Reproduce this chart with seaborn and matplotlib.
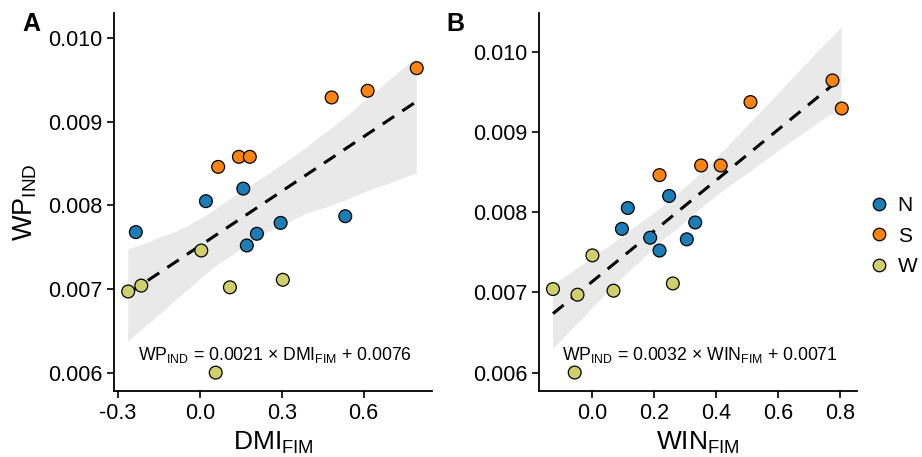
import matplotlib
matplotlib.use("Agg")
import matplotlib.pyplot as plt
import seaborn as sns
import pandas as pd
from matplotlib.lines import Line2D

# ---- data ----
groups = ["N"] * 7 + ["S"] * 6 + ["W"] * 6
wp_ind = [0.00768, 0.00805, 0.00820, 0.00787, 0.00779, 0.00766, 0.00752,
          0.00846, 0.00858, 0.00858, 0.00929, 0.00937, 0.00964,
          0.00697, 0.00704, 0.00746, 0.00702, 0.00711, 0.00600]
dmi_fim = [-0.235, 0.022, 0.159, 0.533, 0.296, 0.209, 0.172,
           0.067, 0.143, 0.183, 0.483, 0.615, 0.795,
           -0.263, -0.215, 0.005, 0.110, 0.304, 0.058]
win_fim = [0.188, 0.116, 0.249, 0.333, 0.097, 0.306, 0.218,
           0.218, 0.352, 0.415, 0.805, 0.511, 0.775,
           -0.046, -0.125, 0.002, 0.070, 0.261, -0.055]
group_order = ["N", "S", "W"]
palette = {"N": "#1b7db4", "S": "#fa8411", "W": "#cfd06c"}
dmi_ticks = [-0.3, 0.0, 0.3, 0.6]
dmi_ticklabels = ["-0.3", "0.0", "0.3", "0.6"]
win_ticks = [0.0, 0.2, 0.4, 0.6, 0.8]
win_ticklabels = ["0.0", "0.2", "0.4", "0.6", "0.8"]
y_ticks = [0.006, 0.007, 0.008, 0.009, 0.010]
y_ticklabels = ["0.006", "0.007", "0.008", "0.009", "0.010"]
eq_a = r"WP$_{\mathrm{IND}}$ = 0.0021 × DMI$_{\mathrm{FIM}}$ + 0.0076"
eq_b = r"WP$_{\mathrm{IND}}$ = 0.0032 × WIN$_{\mathrm{FIM}}$ + 0.0071"

df = pd.DataFrame({"group": groups, "WP": wp_ind, "DMI": dmi_fim, "WIN": win_fim})

sns.set_style("ticks")
plt.rcParams["font.family"] = ["Liberation Sans", "DejaVu Sans"]
plt.rcParams["mathtext.fontset"] = "custom"
plt.rcParams["mathtext.rm"] = "Liberation Sans"
plt.rcParams["mathtext.it"] = "Liberation Sans:italic"
plt.rcParams["mathtext.bf"] = "Liberation Sans:bold"
for key in ["text.color", "axes.labelcolor", "xtick.color", "ytick.color", "axes.edgecolor"]:
    plt.rcParams[key] = "black"

fig = plt.figure(figsize=(9.22, 4.57), dpi=100)
axA = fig.add_axes([114 / 922, 66 / 457, 318 / 922, 378 / 457])
axB = fig.add_axes([539 / 922, 66 / 457, 317.7 / 922, 378 / 457])


def panel(ax, xcol, xlim, ylim, xticks, xticklabels, xlabel, eq):
    sns.regplot(data=df, x=xcol, y="WP", ax=ax, scatter=False, ci=95,
                color="black", truncate=True,
                line_kws={"lw": 2.2, "dashes": (4.5, 3.2), "zorder": 3})
    for coll in ax.collections:
        coll.set_facecolor("#e9e9e9")
        coll.set_alpha(1.0)
        coll.set_edgecolor("none")
        coll.set_zorder(1)
    sns.scatterplot(data=df, x=xcol, y="WP", hue="group", hue_order=group_order,
                    palette=palette, s=85, edgecolor="black", linewidth=0.9,
                    ax=ax, legend=False, zorder=4)
    ax.set_xlim(*xlim)
    ax.set_ylim(*ylim)
    ax.set_xticks(xticks)
    ax.set_xticklabels(xticklabels)
    ax.set_yticks(y_ticks)
    ax.set_yticklabels(y_ticklabels)
    ax.tick_params(labelsize=15.5, length=5, width=1.2, color="black", labelcolor="black")
    for s in ["top", "right"]:
        ax.spines[s].set_visible(False)
    for s in ["left", "bottom"]:
        ax.spines[s].set_linewidth(1.3)
        ax.spines[s].set_color("black")
    ax.set_xlabel(xlabel, fontsize=19, labelpad=4)
    ax.set_ylabel("")
    ax.text(0.507, 0.095, eq, transform=ax.transAxes, ha="center", va="center",
            fontsize=12.7, zorder=5)


panel(axA, "DMI", (-0.315, 0.851), (0.00578, 0.0103), dmi_ticks, dmi_ticklabels,
      r"DMI$_{\mathrm{FIM}}$", eq_a)
panel(axB, "WIN", (-0.170, 0.853), (0.00577, 0.01048), win_ticks, win_ticklabels,
      r"WIN$_{\mathrm{FIM}}$", eq_b)

axA.set_ylabel(r"WP$_{\mathrm{IND}}$", fontsize=19.5, labelpad=6)

fig.text(22 / 922, 1 - 24 / 457, "A", fontsize=18, fontweight="bold", va="center", ha="left")
fig.text(446 / 922, 1 - 24 / 457, "B", fontsize=18, fontweight="bold", va="center", ha="left")

handles = [Line2D([0], [0], marker="o", linestyle="", markersize=9,
                  markerfacecolor=palette[g], markeredgecolor="black",
                  markeredgewidth=0.9, label=g) for g in group_order]
fig.legend(handles=handles, loc="center left", bbox_to_anchor=(858 / 922, 1 - 236 / 457),
           frameon=False, fontsize=15, handletextpad=0.3, labelspacing=0.55,
           borderaxespad=0, handlelength=1.2)

fig.savefig("out.png", dpi=100)
